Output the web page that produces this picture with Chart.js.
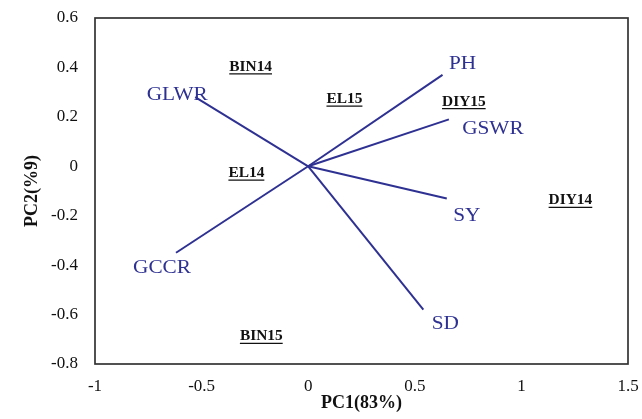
<!DOCTYPE html>
<html>
<head>
<meta charset="utf-8">
<script src="https://cdn.jsdelivr.net/npm/chart.js@4/dist/chart.umd.min.js"></script>
<style>
  html, body { margin: 0; padding: 0; background: #fff; }
  #wrap { width: 642px; height: 419px; position: relative; }
</style>
</head>
<body>
<div id="wrap"><canvas id="c" width="642" height="419"></canvas></div>
<script>
// ---- Data ----
const varNames = ['PH', 'GSWR', 'SY', 'SD', 'GCCR', 'GLWR'];
const varPC1 = [0.63, 0.66, 0.65, 0.54, -0.62, -0.53];
const varPC2 = [0.37, 0.19, -0.13, -0.58, -0.35, 0.28];

const sampleNames = ['BIN14', 'EL14', 'EL15', 'DIY15', 'DIY14', 'BIN15'];
const samplePC1 = [-0.27, -0.29, 0.17, 0.73, 1.23, -0.22];
const samplePC2 = [0.40, -0.03, 0.27, 0.26, -0.14, -0.69];

const xTickValues = [-1, -0.5, 0, 0.5, 1, 1.5];
const yTickValues = [-0.8, -0.6, -0.4, -0.2, 0, 0.2, 0.4, 0.6];

const xTitle = 'PC1(83%)';
const yTitle = 'PC2(%9)';

// ---- Styles / layout ----
const lineColor = '#2E3192';
const serif = "'Liberation Serif', 'Times New Roman', serif";
// pixel offsets of the variable labels from the vector tips (layout only)
const varLabelOffset = {
  PH: [20, -11], GSWR: [44, 10], SY: [20, 18], SD: [22, 14], GCCR: [-14, 15], GLWR: [-18, -2]
};

const datasets = varNames.map((n, i) => ({
  label: n,
  data: [{x: 0, y: 0}, {x: varPC1[i], y: varPC2[i]}],
  showLine: true,
  borderColor: lineColor,
  borderWidth: 2,
  pointRadius: 0,
  fill: false
}));
datasets.push({
  label: 'samples',
  data: sampleNames.map((n, i) => ({x: samplePC1[i], y: samplePC2[i]})),
  showLine: false,
  pointRadius: 0
});

const labelPlugin = {
  id: 'labels',
  afterDatasetsDraw(chart) {
    const ctx = chart.ctx;
    const xs = chart.scales.x, ys = chart.scales.y;
    ctx.save();
    ctx.textAlign = 'center';
    ctx.textBaseline = 'middle';
    // variable labels
    ctx.font = "19px " + serif;
    ctx.fillStyle = lineColor;
    varNames.forEach((n, i) => {
      const px = xs.getPixelForValue(varPC1[i]);
      const py = ys.getPixelForValue(varPC2[i]);
      const off = varLabelOffset[n] || [0, 0];
      ctx.save();
      ctx.translate(px + off[0], py + off[1]);
      ctx.scale(1.12, 1);
      ctx.fillText(n, 0, 0);
      ctx.restore();
    });
    // sample labels (bold, underlined)
    ctx.font = "bold 14px " + serif;
    ctx.fillStyle = '#111';
    ctx.strokeStyle = '#111';
    ctx.lineWidth = 1.2;
    sampleNames.forEach((n, i) => {
      const px = xs.getPixelForValue(samplePC1[i]);
      const py = ys.getPixelForValue(samplePC2[i]);
      ctx.save();
      ctx.translate(px, py);
      ctx.scale(1.1, 1);
      ctx.fillText(n, 0, 0);
      const w = ctx.measureText(n).width;
      ctx.beginPath();
      ctx.moveTo(-w / 2, 6.5);
      ctx.lineTo(w / 2, 6.5);
      ctx.stroke();
      ctx.restore();
    });
    // frame
    const a = chart.chartArea;
    ctx.strokeStyle = '#333';
    ctx.lineWidth = 1.7;
    ctx.strokeRect(a.left, a.top, a.right - a.left, a.bottom - a.top);
    ctx.restore();
  }
};

new Chart(document.getElementById('c'), {
  type: 'scatter',
  data: { datasets },
  options: {
    responsive: false,
    animation: false,
    layout: { padding: { top: 18, right: 14, left: 0, bottom: 0 } },
    plugins: { legend: { display: false }, tooltip: { enabled: false } },
    scales: {
      x: {
        type: 'linear',
        min: -1, max: 1.5,
        afterBuildTicks: s => { s.ticks = xTickValues.map(v => ({value: v})); },
        afterFit: s => { s.height = 55; s.paddingLeft = 0; s.paddingRight = 0; },
        grid: { display: false, drawTicks: false },
        border: { display: false },
        ticks: {
          padding: 12,
          color: '#111',
          font: { family: serif, size: 17 },
          callback: v => String(Number(v.toFixed(2)))
        },
        title: {
          display: true, text: xTitle, color: '#111',
          font: { family: serif, size: 18, weight: 'bold' },
          padding: { top: 0, bottom: 5 }
        }
      },
      y: {
        type: 'linear',
        min: -0.8, max: 0.6,
        afterBuildTicks: s => { s.ticks = yTickValues.map(v => ({value: v})); },
        afterFit: s => { s.width = 95; s.paddingTop = 0; s.paddingBottom = 0; },
        grid: { display: false, drawTicks: false },
        border: { display: false },
        ticks: {
          padding: 17,
          color: '#111',
          font: { family: serif, size: 17 },
          callback: v => String(Number(v.toFixed(2)))
        },
        title: {
          display: true, text: yTitle, color: '#111',
          font: { family: serif, size: 18, weight: 'bold' },
          padding: { top: 22, bottom: 0 }
        }
      }
    }
  },
  plugins: [labelPlugin]
});
</script>
</body>
</html>
